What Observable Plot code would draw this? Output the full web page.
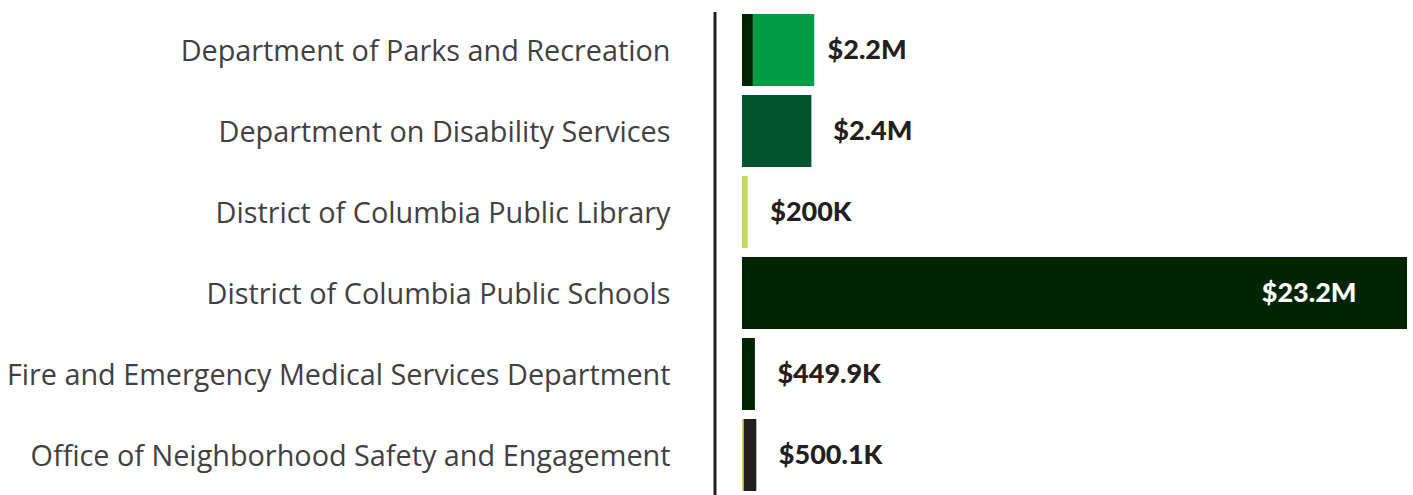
<!DOCTYPE html>
<html><head><meta charset="utf-8">
<script src="https://cdn.jsdelivr.net/npm/d3@7"></script>
<script src="https://cdn.jsdelivr.net/npm/@observablehq/plot@0.6"></script>
<style>body{margin:0;background:#fff} #chart svg{display:block}</style>
</head><body><div id="chart"></div>
<script>
const agencies = [
  "Department of Parks and Recreation",
  "Department on Disability Services",
  "District of Columbia Public Library",
  "District of Columbia Public Schools",
  "Fire and Emergency Medical Services Department",
  "Office of Neighborhood Safety and Engagement"
];
const seriesNames = ["Fund A", "Fund B", "Fund C", "Fund D", "Fund E"];
const seriesColors = ["#002400", "#009c45", "#00552f", "#c4d95e", "#231f20"];
// values in millions of dollars, one per agency
const fundA = [0.38, 0, 0, 23.2, 0.4499, 0];
const fundB = [2.14, 0, 0, 0, 0, 0];
const fundC = [0, 2.42, 0, 0, 0, 0];
const fundD = [0, 0, 0.2, 0, 0, 0.06];
const fundE = [0, 0, 0, 0, 0, 0.4401];
const totals = [2.2, 2.4, 0.2, 23.2, 0.4499, 0.5001];
const valueLabels = ["$2.2M", "$2.4M", "$200K", "$23.2M", "$449.9K", "$500.1K"];

const seriesValues = [fundA, fundB, fundC, fundD, fundE];
const rows = [];
seriesNames.forEach((s, i) => {
  agencies.forEach((a, j) => {
    if (seriesValues[i][j] > 0) rows.push({agency: a, series: s, value: seriesValues[i][j]});
  });
});
const labelRows = agencies.map((a, j) => ({agency: a, total: totals[j], label: valueLabels[j]}));
const inside = d => d.total > 10;

const chart = Plot.plot({
  width: 1413,
  height: 495,
  marginLeft: 742,
  marginRight: 6,
  marginTop: 10,
  marginBottom: 0,
  style: {background: "#fff"},
  x: {domain: [0, 23.2], axis: null},
  y: {domain: agencies, paddingInner: 0.105, paddingOuter: 0.0245, label: null},
  color: {domain: seriesNames, range: seriesColors},
  marks: [
    Plot.axisY({tickSize: 0, tickPadding: 72, dy: 1, fontSize: 28.8, fontFamily: "'Open Sans', sans-serif", fill: "#414042", label: null}),
    Plot.barX(rows, {x: "value", y: "agency", fill: "series"}),
    Plot.ruleX([0], {dx: -27.5, stroke: "#231f20", strokeWidth: 3, insetTop: 2}),
    Plot.text(labelRows.filter(d => !inside(d)), {x: "total", y: "agency", text: "label", textAnchor: "start", dx: 22, fill: "#231f20", fontSize: 27, fontWeight: 900, fontFamily: "Lato, sans-serif"}),
    Plot.text(labelRows.filter(inside), {x: "total", y: "agency", text: "label", textAnchor: "end", dx: -51, fill: "#ffffff", fontSize: 27, fontWeight: 900, fontFamily: "Lato, sans-serif"})
  ]
});
document.getElementById("chart").append(chart);
</script>
</body></html>
